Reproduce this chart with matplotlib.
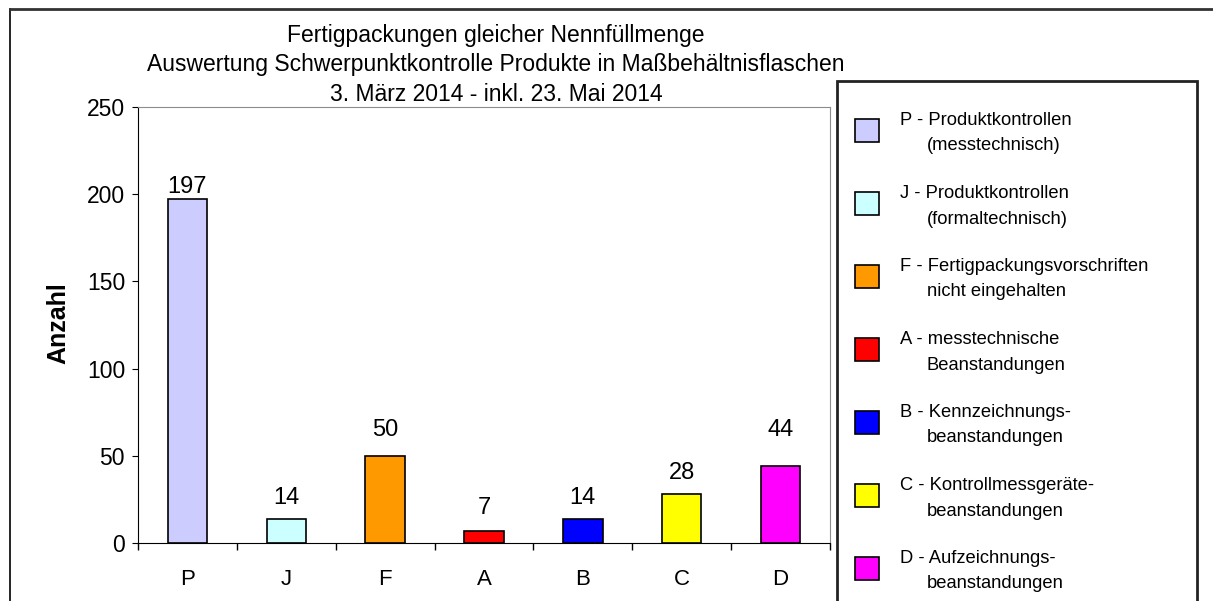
import matplotlib.pyplot as plt
from matplotlib.patches import Rectangle
from matplotlib.lines import Line2D

plt.rcParams['font.family'] = ['Liberation Sans', 'DejaVu Sans']

categories = ['P', 'J', 'F', 'A', 'B', 'C', 'D']
values = [197, 14, 50, 7, 14, 28, 44]
colors = ['#ccccff', '#ccffff', '#ff9900', '#ff0000', '#0000ff', '#ffff00', '#ff00ff']
legend_first = ['P - Produktkontrollen', 'J - Produktkontrollen',
                'F - Fertigpackungsvorschriften', 'A - messtechnische',
                'B - Kennzeichnungs-', 'C - Kontrollmessgeräte-', 'D - Aufzeichnungs-']
legend_second = ['(messtechnisch)', '(formaltechnisch)', 'nicht eingehalten',
                 'Beanstandungen', 'beanstandungen', 'beanstandungen', 'beanstandungen']
title_lines = ['Fertigpackungen gleicher Nennfüllmenge',
               'Auswertung Schwerpunktkontrolle Produkte in Maßbehältnisflaschen',
               '3. März 2014 - inkl. 23. Mai 2014']
# gap (px) between bar top and its value label, as placed in the original
label_gap = [5, 14, 19, 16, 14, 14, 29]

W, H = 1213, 601
fig = plt.figure(figsize=(W / 100, H / 100), dpi=100)

def fx(px):
    return px / W

def fy(py):
    return 1 - py / H

# outer chart frame (runs off right and bottom edge)
fig.add_artist(Line2D([fx(10), fx(10)], [0, fy(9)], transform=fig.transFigure,
                      color='black', lw=1.2))
fig.add_artist(Line2D([fx(10), 1], [fy(9), fy(9)], transform=fig.transFigure,
                      color='#333333', lw=2))

ax = fig.add_axes([fx(138), fy(543), (830 - 138) / W, (543 - 107) / H])
x = range(len(categories))
bars = ax.bar(x, values, width=0.4, color=colors, edgecolor='black', linewidth=1.2)
for i, v in enumerate(values):
    ax.annotate(str(v), (i, v), xytext=(0, (label_gap[i] + 1) * 0.72),
                textcoords='offset points', ha='center', va='baseline', fontsize=17)

ax.set_xlim(-0.5, len(categories) - 0.5)
ax.set_ylim(0, 250)
ax.set_yticks([0, 50, 100, 150, 200, 250])
ax.set_xticks(list(x))
ax.set_xticklabels(categories)
ax.set_xticks([i - 0.5 for i in range(len(categories) + 1)], minor=True)
ax.tick_params(axis='x', which='major', length=0, pad=18.5, labelsize=16)
ax.tick_params(axis='x', which='minor', length=5, direction='out', width=1)
ax.tick_params(axis='y', length=4.3, direction='out', labelsize=16.5, pad=5)
for s in ['top', 'right']:
    ax.spines[s].set_color('#8c8c8c')
for s in ['left', 'bottom']:
    ax.spines[s].set_color('black')

fig.text(fx(58), fy(323), 'Anzahl', rotation=90, ha='center', va='center',
         fontsize=18, fontweight='bold')

for line, base in zip(title_lines, [42, 71.5, 101]):
    fig.text(fx(496), fy(base), line, ha='center', va='baseline', fontsize=16.5)

# legend
fig.add_artist(Rectangle((fx(837), -0.05), (1197 - 837) / W, fy(81) + 0.05,
                         transform=fig.transFigure, fill=False, edgecolor='#222222',
                         lw=2))
for i, (b, t1, t2) in enumerate(zip(bars, legend_first, legend_second)):
    top = 119 + 73 * i
    fig.add_artist(Rectangle((fx(855), fy(top + 23)), 24 / W, 23 / H,
                             transform=fig.transFigure, facecolor=b.get_facecolor(),
                             edgecolor='black', lw=1.2))
    fig.text(fx(900), fy(125 + 73 * i), t1, ha='left', va='baseline', fontsize=13.2)
    fig.text(fx(927), fy(150.5 + 73 * i), t2, ha='left', va='baseline', fontsize=13.2)

fig.savefig('out.png', dpi=100)
